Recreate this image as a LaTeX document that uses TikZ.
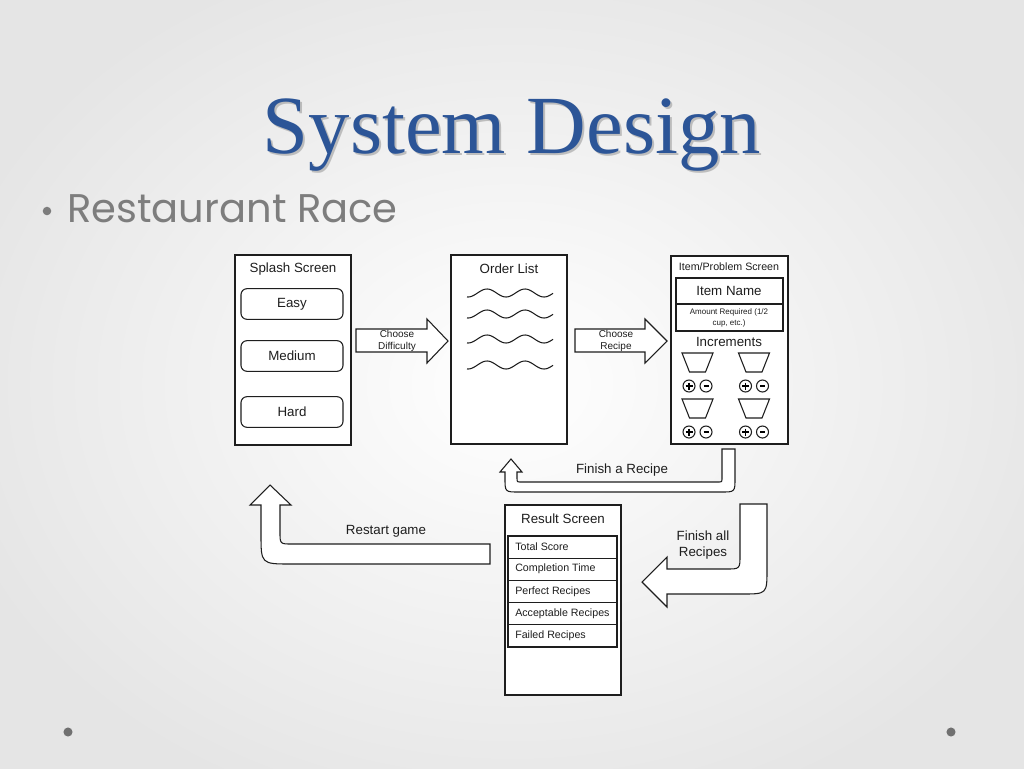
\documentclass[tikz,border=0pt]{standalone}
\usepackage{fontspec}
\setmainfont{Liberation Sans}
\newfontfamily\titlefont{Liberation Serif}
\newfontfamily\bulletfont{Poppins}
\usetikzlibrary{calc}
\definecolor{titleblue}{RGB}{44,85,151}
\definecolor{slidegray}{RGB}{125,125,125}
\definecolor{linegray}{RGB}{30,30,30}
\tikzset{
	screen/.style={draw=linegray, line width=0.8pt, fill=white},
	blockarrow/.style={draw=linegray, line width=0.8pt, fill=white},
	lbl/.style={font=\fontsize{10}{12}\selectfont, text=linegray, inner sep=0pt},
	smalllbl/.style={font=\fontsize{8}{9.6}\selectfont, text=linegray, inner sep=0pt},
	tinylbl/.style={font=\fontsize{6}{8}\selectfont, align=center, text=linegray, inner sep=0pt},
	btn/.style={draw=linegray, line width=0.8pt, rounded corners=4.5pt, minimum width=76.5pt, minimum height=23pt, lbl, inner sep=0pt},
}
% one measuring cup with its + and - buttons, (centre of top edge)
\def\incrcup(#1,#2){
	\draw[screen] (#1-15.5,#2) -- (#1+15.5,#2) -- (#1+8,#2+19) -- (#1-8,#2+19) -- cycle;
	\draw[screen] (#1-8.5,#2+33) circle [radius=4.5pt];
	\draw[screen] (#1+8.5,#2+33) circle [radius=4.5pt];
	\draw[line width=0.8pt] (#1-12,#2+33) -- (#1-5,#2+33);
	\draw[line width=0.8pt] (#1-8.5,#2+29.5) -- (#1-8.5,#2+36.5);
	\draw[line width=0.8pt] (#1+6,#2+33) -- (#1+11,#2+33);
}

\begin{document}
\begin{tikzpicture}[x=0.75pt, y=-0.75pt]
		%%%%% SLIDE %%%%%
		\useasboundingbox (0,0) rectangle (1024,768);
		\shade[inner color=white, outer color=black!10] (-60,-60) rectangle (1084,828);
		
		\node[font=\titlefont\fontsize{62}{70}\selectfont, text=black!45, opacity=0.5, anchor=base] at (514,155) {System Design};
		\node[font=\titlefont\fontsize{62}{70}\selectfont, text=titleblue, anchor=base] (title) at (512,153) {System Design};
		
		\fill[slidegray] (47,211) circle [radius=3.2pt];
		\node[font=\bulletfont\fontsize{30}{36}\selectfont, text=slidegray, anchor=base west, inner sep=0pt] (race) at (67,222) {Restaurant Race};
		
		\fill[slidegray!90!black] (68,732) circle [radius=3.4pt];
		\fill[slidegray!90!black] (951,732) circle [radius=3.4pt];
		
		%%%%% SPLASH SCREEN %%%%%
		\draw[screen] (235,255) rectangle (351,445);
		\node[lbl] (splash) at (293,269) {Splash Screen};
		\node[btn] (easy) at (292,304) {Easy};
		\node[btn] (medium) at (292,356) {Medium};
		\node[btn] (hard) at (292,412) {Hard};
		
		\draw[blockarrow] (356,329) -- (427,329) -- (427,319) -- (448,341) -- (427,363) -- (427,352) -- (356,352) -- cycle;
		\node[font=\fontsize{7.5}{9}\selectfont, align=center, text=linegray, inner sep=0pt] (difficulty) at (397,341) {Choose\\Difficulty};
		
		%%%%% ORDER LIST %%%%%
		\draw[screen] (451,255) rectangle (567,444);
		\node[lbl] (orders) at (509,269) {Order List};
		\foreach \y in {293,314,339,365}
			\draw[line width=0.8pt, linegray] plot[domain=467:553, samples=60, smooth] (\x, {\y-4*sin(9.4737*(\x-477.5))});
		
		\draw[blockarrow] (575,329) -- (645,329) -- (645,319) -- (667,341) -- (645,363) -- (645,352) -- (575,352) -- cycle;
		\node[font=\fontsize{7.5}{9}\selectfont, align=center, text=linegray, inner sep=0pt] (recipe) at (616,341) {Choose\\Recipe};
		
		%%%%% ITEM / PROBLEM SCREEN %%%%%
		\draw[screen] (671,256) rectangle (788,444);
		\node[smalllbl] (item) at (729,267) {Item/Problem Screen};
		\draw[screen] (676,278) rectangle (783,304);
		\node[lbl] (itemname) at (729,291) {Item Name};
		\draw[screen] (676,304) rectangle (783,331);
		\node[tinylbl] (amount) at (729,318) {Amount Required (1/2\\cup, etc.)};
		\node[lbl] (increments) at (729,342) {Increments};
		\incrcup(697.5,353)
		\incrcup(754,353)
		\incrcup(697.5,399)
		\incrcup(754,399)
		
		%%%%% BACK ARROWS %%%%%
		\draw[blockarrow] (722,449) -- (735,449) -- (735,478) .. controls (735,492) .. (721,492) -- (519,492) .. controls (505,492) .. (505,478) -- (505,472) -- (500,472) -- (511,459) -- (522,472) -- (517,472) -- (517,478) .. controls (517,482) .. (521,482) -- (718,482) .. controls (722,482) .. (722,478) -- cycle;
		\node[lbl] (finishone) at (622,470) {Finish a Recipe};
		
		\draw[blockarrow] (740,504) -- (767,504) -- (767,569) .. controls (767,594) .. (742,594) -- (667,594) -- (667,607) -- (642,582) -- (667,557) -- (667,569) -- (726,569) .. controls (740,569) .. (740,555) -- cycle;
		\node[lbl, align=center, font=\fontsize{10}{11.5}\selectfont] (finishall) at (703,545) {Finish all\\Recipes};
		
		\draw[blockarrow] (490,544) -- (490,564) -- (291,564) .. controls (261,564) .. (261,534) -- (261,505) -- (250,505) -- (270,485) -- (291,505) -- (280,505) -- (280,532) .. controls (280,544) .. (292,544) -- cycle;
		\node[lbl] (restart) at (386,531) {Restart game};
		
		%%%%% RESULT SCREEN %%%%%
		\draw[screen] (505,505) rectangle (621,695);
		\node[lbl] (result) at (563,519) {Result Screen};
		\foreach \row [count=\i from 0] in {Total Score, Completion Time, Perfect Recipes, Acceptable Recipes, Failed Recipes} {
			\draw[screen] (508,536+22.2*\i) rectangle (617,558.2+22.2*\i);
			\node[smalllbl, anchor=west] (row\i) at (515,547+22.2*\i) {\row};
		}
		
		%%%%% END %%%%%
	\end{tikzpicture}
\end{document}
